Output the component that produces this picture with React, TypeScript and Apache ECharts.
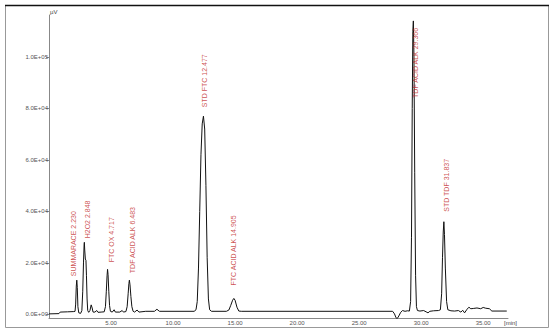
import React, { useEffect, useRef } from "react";
import * as echarts from "echarts";

// Chromatogram trace (time in min, signal in µV)
const traceTimes = [
  0.0, 0.8, 0.9, 1.5, 2.0, 2.1, 2.15, 2.2, 2.24, 2.28, 2.33, 2.4, 2.55, 2.65, 2.72, 2.78, 2.83, 2.85, 2.88,
  2.93, 2.98, 3.02, 3.07, 3.12, 3.2, 3.3, 3.4, 3.48, 3.55, 3.7, 3.85, 3.95, 4.2, 4.45, 4.55, 4.62, 4.68,
  4.72, 4.76, 4.82, 4.88, 4.95, 5.1, 5.25, 5.35, 5.7, 5.9, 6.0, 6.2, 6.3, 6.38, 6.44, 6.48, 6.53, 6.6,
  6.68, 6.78, 6.9, 7.1, 7.25, 7.8, 8.5, 8.7, 8.9, 11.7, 11.85, 11.95, 12.05, 12.15, 12.25, 12.35, 12.45,
  12.55, 12.65, 12.75, 12.85, 12.95, 13.1, 14.3, 14.5, 14.65, 14.8, 14.9, 15.0, 15.15, 15.3, 15.5, 27.7,
  27.85, 27.95, 28.05, 28.2, 28.35, 28.5, 28.7, 28.9, 29.05, 29.15, 29.22, 29.28, 29.33, 29.37, 29.42,
  29.48, 29.55, 29.62, 29.7, 29.9, 30.2, 30.4, 30.55, 30.7, 31.0, 31.4, 31.55, 31.65, 31.72, 31.78, 31.83,
  31.88, 31.95, 32.05, 32.15, 32.4, 32.7, 33.0, 33.2, 33.35, 33.5, 33.7, 33.85, 34.0, 34.2, 34.5, 34.8,
  35.0, 35.2, 35.5, 35.7, 36.9,
];
const traceValues = [
  200, 300, 900, 1000, 1100, 1200, 4000, 11000, 13300, 10500, 3000, 600, 400, 1500, 9000, 20000, 27000,
  28000, 25000, 21500, 21000, 15000, 6000, 1500, 800, 1500, 3700, 2500, 900, 900, 1500, 800, 900, 1000,
  3000, 9000, 15000, 17500, 15500, 9000, 3500, 1200, 900, 1800, 900, 900, 1500, 900, 1100, 3000, 8000,
  12000, 13300, 11500, 7000, 3000, 1200, 900, 1700, 900, 1200, 1200, 2000, 1200, 1200, 1800, 5000, 18000,
  40000, 62000, 74000, 77000, 72000, 50000, 22000, 6000, 1800, 1200, 1200, 1700, 3500, 5500, 6200, 5500,
  2800, 1300, 1200, 1200, 200, -1000, -1800, -600, 800, 1500, 1200, 1400, 1300, 5000, 30000, 80000,
  110000, 114000, 100000, 55000, 15000, 3000, 1500, 1300, 1500, 1000, 600, 1200, 1400, 1500, 1800, 8000,
  22000, 32000, 36000, 31000, 18000, 5000, 1800, 1400, 1300, 1500, 900, 1600, 600, 2000, 2800, 2200, 2300,
  2500, 2200, 2700, 2400, 2200, 1300, 1300,
];

// Peak annotations
const peakNames = [
  "SUMMARACE 2.230",
  "H2O2 2.848",
  "FTC OX 4.717",
  "TDF ACID ALK 6.483",
  "STD FTC 12.477",
  "FTC ACID ALK 14.905",
  "TDF ACID ALK 29.366",
  "STD TDF 31.837",
];
const peakTimes = [2.24, 2.85, 4.72, 6.48, 12.45, 14.9, 29.37, 31.83];
const peakHeights = [13300, 28000, 17500, 13300, 77000, 6200, 114000, 36000];

const yTicks = [0, 20000, 40000, 60000, 80000, 100000];
const xTicks = [5, 10, 15, 20, 25, 30, 35];

// label offsets are in the rotated label frame: [along text (up), across (right)]
const labelOffsets: number[][] = [
  [0, -3],
  [0, 3],
  [3, 4],
  [3, 3],
  [5, 1],
  [9, 0],
  [-81, 2],
  [6, 3],
];

function fmtExp(v: number): string {
  const [m, e] = v.toExponential(1).split("e");
  const sign = e[0] === "-" ? "-" : "+";
  const digits = e.replace(/[+-]/, "").padStart(2, "0");
  return `${m}E${sign}${digits}`;
}

export default function App() {
  const ref = useRef<HTMLDivElement>(null);
  useEffect(() => {
    if (!ref.current) return;
    const chart = echarts.init(ref.current, undefined, { renderer: "svg" });
    const trace = traceTimes.map((t, i) => [t, traceValues[i]]);
    const peaks = peakTimes.map((t, i) => ({
      value: [t, peakHeights[i]],
      name: peakNames[i],
      label: { offset: labelOffsets[i] },
    }));
    const font = "Liberation Sans, Arial, sans-serif";
    chart.setOption({
      animation: false,
      backgroundColor: "#ffffff",
      grid: { left: 49, top: 15, right: 47, bottom: 16 },
      xAxis: {
        type: "value",
        min: 0,
        max: 37,
        axisLine: { onZero: false, lineStyle: { color: "#888", width: 1 } },
        axisTick: { show: false },
        axisLabel: {
          fontSize: 6,
          color: "#555",
          margin: 2,
          fontFamily: font,
          customValues: xTicks,
          formatter: (v: number) => v.toFixed(2),
        },
        splitLine: { show: false },
      },
      yAxis: {
        type: "value",
        min: -1400,
        max: 116300,
        axisLine: { show: true, onZero: false, lineStyle: { color: "#888", width: 1 } },
        axisTick: { show: true, length: 3, customValues: yTicks, lineStyle: { color: "#888" } },
        axisLabel: {
          fontSize: 6,
          color: "#555",
          margin: 1,
          fontFamily: font,
          customValues: yTicks,
          formatter: (v: number) => fmtExp(v),
        },
        splitLine: { show: false },
      },
      graphic: [
        {
          type: "rect",
          shape: { x: 5.5, y: 5.5, width: 543, height: 322 },
          style: { fill: "none", stroke: "#999", lineWidth: 1 },
          silent: true,
        },
        {
          type: "line",
          shape: { x1: 5, y1: 5.5, x2: 549, y2: 5.5 },
          style: { stroke: "#111", lineWidth: 1.5 },
          silent: true,
        },
        {
          type: "text",
          x: 50,
          y: 9,
          style: { text: "µV", fontSize: 6, fill: "#444", fontFamily: font },
        },
        {
          type: "text",
          x: 504,
          y: 320,
          style: { text: "[min]", fontSize: 6, fill: "#444", fontFamily: font },
        },
      ],
      series: [
        {
          type: "line",
          data: trace,
          symbol: "none",
          lineStyle: { color: "#111", width: 1 },
          silent: true,
          z: 2,
        },
        {
          type: "scatter",
          data: peaks,
          symbolSize: 0,
          silent: true,
          z: 3,
          label: {
            show: true,
            position: "top",
            distance: 4,
            rotate: 90,
            align: "left",
            verticalAlign: "middle",
            fontSize: 7,
            color: "#c02424",
            fontFamily: font,
            formatter: (p: any) => p.name,
          },
        },
      ],
    });
    return () => chart.dispose();
  }, []);
  return (
    <div
      ref={ref}
      style={{ position: "absolute", left: 0, top: 0, width: 555, height: 334, background: "#fff" }}
    />
  );
}
